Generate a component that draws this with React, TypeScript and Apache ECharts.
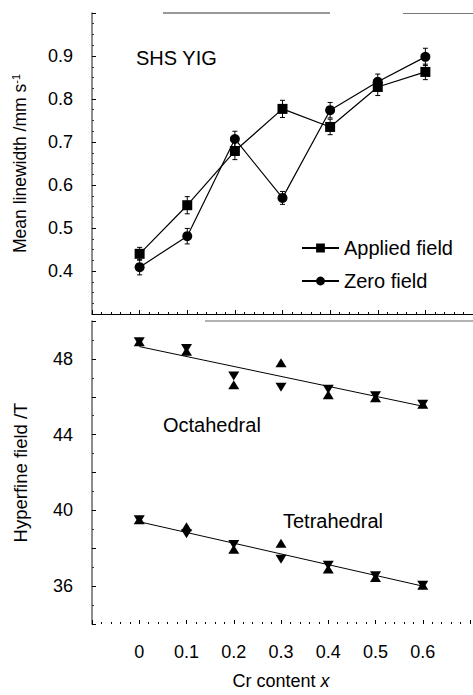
import React, { useEffect, useRef } from "react";
import * as echarts from "echarts";

const xValues = [0, 0.1, 0.2, 0.3, 0.4, 0.5, 0.6];
const appliedField = [0.44, 0.553, 0.679, 0.777, 0.735, 0.828, 0.863];
const appliedErr = [0.015, 0.02, 0.02, 0.02, 0.018, 0.02, 0.018];
const zeroField = [0.409, 0.481, 0.707, 0.57, 0.774, 0.84, 0.898];
const zeroErr = [0.018, 0.018, 0.018, 0.015, 0.018, 0.018, 0.02];

const octaUp = [48.9, 48.4, 46.63, 47.8, 46.1, 45.95, 45.6];
const octaDown = [48.9, 48.55, 47.1, 46.5, 46.4, 46.05, 45.6];
const tetraUp = [39.5, 39.13, 37.95, 38.26, 36.9, 36.45, 36.05];
const tetraDown = [39.5, 38.76, 38.2, 37.42, 37.1, 36.55, 36.05];

const fitX = [0, 0.6];
const octaFit = [48.65, 45.5];
const tetraFit = [39.4, 36.0];

const topTicks = [0.4, 0.5, 0.6, 0.7, 0.8, 0.9];
const bottomTicks = [36, 40, 44, 48];
const xTicks = [0, 0.1, 0.2, 0.3, 0.4, 0.5, 0.6];

const FONT = '"Liberation Sans", Arial, sans-serif';

function near(list: number[], v: number) {
  return list.some((t) => Math.abs(t - v) < 1e-6);
}

function errRender(params: any, api: any) {
  const x = api.value(0);
  const y = api.value(1);
  const e = api.value(2);
  const top = api.coord([x, y + e]);
  const bot = api.coord([x, y - e]);
  const cap = 2.5;
  const st = { stroke: "#000", lineWidth: 1 };
  return {
    type: "group",
    children: [
      { type: "line", shape: { x1: top[0], y1: top[1], x2: bot[0], y2: bot[1] }, style: st },
      { type: "line", shape: { x1: top[0] - cap, y1: top[1], x2: top[0] + cap, y2: top[1] }, style: st },
      { type: "line", shape: { x1: bot[0] - cap, y1: bot[1], x2: bot[0] + cap, y2: bot[1] }, style: st },
    ],
  };
}

export default function App() {
  const ref = useRef<HTMLDivElement>(null);
  useEffect(() => {
    if (!ref.current) return;
    const chart = echarts.init(ref.current, undefined, { renderer: "svg" });
    const xAxisCommon = {
      type: "value",
      min: -0.1,
      max: 0.7,
      interval: 0.1,
      splitLine: { show: false },
      axisTick: { inside: true, length: 4, lineStyle: { color: "#000" } },
      minorTick: { show: true, splitNumber: 5, length: 2, lineStyle: { color: "#000" } },
    };
    const triSize = [11, 9];
    const option: any = {
      animation: false,
      textStyle: { fontFamily: FONT },
      grid: [
        { left: 92, top: 13, width: 384, height: 301 },
        { left: 92, top: 321, width: 384, height: 303 },
      ],
      xAxis: [
        {
          ...xAxisCommon,
          gridIndex: 0,
          axisLine: { show: true, onZero: false, lineStyle: { color: "#000", width: 1 } },
          axisLabel: { show: false },
        },
        {
          ...xAxisCommon,
          gridIndex: 1,
          axisLine: { show: false, onZero: false },
          axisLabel: {
            show: true,
            margin: 19,
            fontSize: 18,
            color: "#000",
            fontFamily: FONT,
            formatter: (v: number) => (near(xTicks, v) ? String(Math.round(v * 10) / 10) : ""),
          },
          name: "Cr content {it|x}",
          nameLocation: "middle",
          nameGap: 48,
          nameTextStyle: {
            fontSize: 18,
            color: "#000",
            fontFamily: FONT,
            rich: { it: { fontSize: 18, fontStyle: "italic", fontFamily: FONT, color: "#000" } },
          },
        },
      ],
      yAxis: [
        {
          type: "value",
          gridIndex: 0,
          min: 0.3,
          max: 1.0,
          interval: 0.1,
          splitLine: { show: false },
          axisLine: { show: true, onZero: false, lineStyle: { color: "#666", width: 1.5 } },
          axisTick: { inside: true, length: 4, lineStyle: { color: "#000" } },
          minorTick: { show: true, splitNumber: 4, length: 2, lineStyle: { color: "#333" } },
          axisLabel: {
            margin: 19,
            fontSize: 18,
            color: "#000",
            fontFamily: FONT,
            formatter: (v: number) => (near(topTicks, v) ? (Math.round(v * 10) / 10).toFixed(1) : ""),
          },
          name: "Mean linewidth /mm s{sup|-1}",
          nameLocation: "middle",
          nameRotate: 90,
          nameGap: 62,
          nameTextStyle: {
            fontSize: 17.5,
            color: "#000",
            fontFamily: FONT,
            rich: { sup: { fontSize: 11, color: "#000", fontFamily: FONT, verticalAlign: "top", padding: [0, 0, 9, 0] } },
          },
        },
        {
          type: "value",
          gridIndex: 1,
          min: 34,
          max: 50,
          interval: 2,
          splitLine: { show: false },
          axisLine: { show: true, onZero: false, lineStyle: { color: "#666", width: 1.5 } },
          axisTick: { inside: true, length: 4, lineStyle: { color: "#000" } },
          minorTick: { show: true, splitNumber: 2, length: 2, lineStyle: { color: "#333" } },
          axisLabel: {
            margin: 19,
            fontSize: 18,
            color: "#000",
            fontFamily: FONT,
            formatter: (v: number) => (near(bottomTicks, v) ? String(Math.round(v)) : ""),
          },
          name: "Hyperfine field /T",
          nameLocation: "middle",
          nameRotate: 90,
          nameGap: 62,
          nameTextStyle: { fontSize: 18.5, color: "#000", fontFamily: FONT },
        },
      ],
      legend: {
        data: ["Applied field", "Zero field"],
        orient: "vertical",
        left: 296,
        top: 233,
        itemWidth: 37,
        itemHeight: 11,
        itemGap: 13,
        textStyle: { fontSize: 20, color: "#000", fontFamily: FONT },
      },
      graphic: [
        { type: "line", shape: { x1: 163, y1: 13, x2: 330, y2: 13 }, style: { stroke: "#333", lineWidth: 1 } },
        { type: "line", shape: { x1: 403, y1: 13.5, x2: 473, y2: 13.5 }, style: { stroke: "#777", lineWidth: 1 } },
        { type: "line", shape: { x1: 205, y1: 321, x2: 473, y2: 321 }, style: { stroke: "#999", lineWidth: 1.5 } },
        {
          type: "text",
          x: 136,
          y: 58,
          style: { text: "SHS YIG", font: `20px ${FONT}`, fill: "#000", verticalAlign: "middle" },
        },
        {
          type: "text",
          x: 163,
          y: 425,
          style: { text: "Octahedral", font: `20px ${FONT}`, fill: "#000", verticalAlign: "middle" },
        },
        {
          type: "text",
          x: 283,
          y: 521,
          style: { text: "Tetrahedral", font: `20px ${FONT}`, fill: "#000", verticalAlign: "middle" },
        },
      ],
      series: [
        {
          name: "Applied field err",
          type: "custom",
          xAxisIndex: 0,
          yAxisIndex: 0,
          renderItem: errRender,
          data: xValues.map((x, i) => [x, appliedField[i], appliedErr[i]]),
          encode: { x: 0, y: 1 },
          z: 1,
        },
        {
          name: "Zero field err",
          type: "custom",
          xAxisIndex: 0,
          yAxisIndex: 0,
          renderItem: errRender,
          data: xValues.map((x, i) => [x, zeroField[i], zeroErr[i]]),
          encode: { x: 0, y: 1 },
          z: 1,
        },
        {
          name: "Applied field",
          type: "line",
          xAxisIndex: 0,
          yAxisIndex: 0,
          data: xValues.map((x, i) => [x, appliedField[i]]),
          symbol: "rect",
          symbolSize: 10,
          showAllSymbol: true,
          lineStyle: { color: "#000", width: 1.2 },
          itemStyle: { color: "#000" },
          z: 3,
        },
        {
          name: "Zero field",
          type: "line",
          xAxisIndex: 0,
          yAxisIndex: 0,
          data: xValues.map((x, i) => [x, zeroField[i]]),
          symbol: "circle",
          symbolSize: 10,
          showAllSymbol: true,
          lineStyle: { color: "#000", width: 1.2 },
          itemStyle: { color: "#000" },
          z: 3,
        },
        {
          name: "Octahedral fit",
          type: "line",
          xAxisIndex: 1,
          yAxisIndex: 1,
          data: fitX.map((x, i) => [x, octaFit[i]]),
          showSymbol: false,
          lineStyle: { color: "#000", width: 1 },
          z: 2,
        },
        {
          name: "Tetrahedral fit",
          type: "line",
          xAxisIndex: 1,
          yAxisIndex: 1,
          data: fitX.map((x, i) => [x, tetraFit[i]]),
          showSymbol: false,
          lineStyle: { color: "#000", width: 1 },
          z: 2,
        },
        {
          name: "Octahedral up",
          type: "scatter",
          xAxisIndex: 1,
          yAxisIndex: 1,
          data: xValues.map((x, i) => [x, octaUp[i]]),
          symbol: "triangle",
          symbolSize: triSize,
          itemStyle: { color: "#000", opacity: 1 },
          z: 3,
        },
        {
          name: "Octahedral down",
          type: "scatter",
          xAxisIndex: 1,
          yAxisIndex: 1,
          data: xValues.map((x, i) => [x, octaDown[i]]),
          symbol: "triangle",
          symbolRotate: 180,
          symbolSize: triSize,
          itemStyle: { color: "#000", opacity: 1 },
          z: 3,
        },
        {
          name: "Tetrahedral up",
          type: "scatter",
          xAxisIndex: 1,
          yAxisIndex: 1,
          data: xValues.map((x, i) => [x, tetraUp[i]]),
          symbol: "triangle",
          symbolSize: triSize,
          itemStyle: { color: "#000", opacity: 1 },
          z: 3,
        },
        {
          name: "Tetrahedral down",
          type: "scatter",
          xAxisIndex: 1,
          yAxisIndex: 1,
          data: xValues.map((x, i) => [x, tetraDown[i]]),
          symbol: "triangle",
          symbolRotate: 180,
          symbolSize: triSize,
          itemStyle: { color: "#000", opacity: 1 },
          z: 3,
        },
      ],
    };
    chart.setOption(option);
    return () => chart.dispose();
  }, []);
  return (
    <div
      ref={ref}
      style={{ position: "absolute", left: 0, top: 0, width: 473, height: 695, background: "#fff" }}
    />
  );
}
